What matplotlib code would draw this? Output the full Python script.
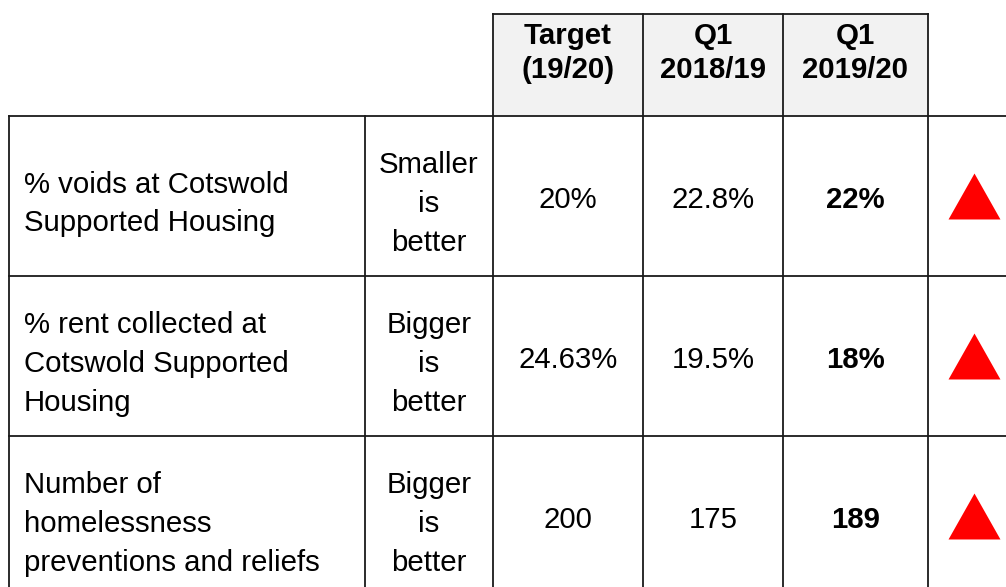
import matplotlib
matplotlib.use("Agg")
import matplotlib.pyplot as plt
from matplotlib.path import Path

# ---- data ----
headers = ["Target\n(19/20)", "Q1\n2018/19", "Q1\n2019/20"]
measures = ["% voids at Cotswold\nSupported Housing",
            "% rent collected at\nCotswold Supported\nHousing",
            "Number of\nhomelessness\npreventions and reliefs"]
polarity = ["Smaller\nis\nbetter", "Bigger\nis\nbetter", "Bigger\nis\nbetter"]
target = ["20%", "24.63%", "200"]
q1_1819 = ["22.8%", "19.5%", "175"]
q1_1920 = ["22%", "18%", "189"]
trend = ["up", "up", "up"]

# ---- layout (pixel coordinates) ----
W, H = 1006, 587
fig = plt.figure(figsize=(W / 100, H / 100), dpi=100)
ax = fig.add_axes([0, 0, 1, 1])
ax.set_xlim(0, W)
ax.set_ylim(H, 0)
ax.axis("off")

plt.rcParams["font.family"] = ["Liberation Sans", "DejaVu Sans"]
FS = 21.2
lc = "#1a1a1a"
lw = 1.3

x_left, x_pol, x_t, x_a, x_b, x_tr, x_right = 9, 365, 493, 643, 783, 928, 1010
y_top, y_head = 14, 116
row_h = 160
rows_y = [y_head + i * row_h for i in range(len(measures) + 1)]

# header fill
ax.add_patch(plt.Rectangle((x_t, y_top), x_tr - x_t, y_head - y_top,
                           facecolor="#f2f2f2", edgecolor="none", zorder=0))

# grid lines
ax.plot([x_t, x_tr], [y_top, y_top], color=lc, lw=lw)
for y in rows_y[:-1]:
    ax.plot([x_left, x_right], [y, y], color=lc, lw=lw)
for x in [x_t, x_a, x_b, x_tr]:
    ax.plot([x, x], [y_top, H + 10], color=lc, lw=lw)
for x in [x_left, x_pol]:
    ax.plot([x, x], [y_head, H + 10], color=lc, lw=lw)

# headers
col_centers = [(x_t + x_a) / 2, (x_a + x_b) / 2, (x_b + x_tr) / 2]
for cx, h in zip(col_centers, headers):
    ax.text(cx, 53, h, ha="center", va="center", fontsize=FS, fontweight="bold",
            linespacing=1.3)

# triangle marker
tri = Path([(0, 0.885), (-1, -0.885), (1, -0.885), (0, 0.885)],
           [Path.MOVETO, Path.LINETO, Path.LINETO, Path.CLOSEPOLY])

for i in range(len(measures)):
    yc = rows_y[i] + row_h / 2
    ax.text(24, yc + 8, measures[i], ha="left", va="center", fontsize=FS,
            linespacing=1.48)
    ax.text((x_pol + x_t) / 2, yc + 8, polarity[i], ha="center", va="center",
            fontsize=FS, linespacing=1.48)
    ax.text(col_centers[0], yc + 4, target[i], ha="center", va="center", fontsize=FS)
    ax.text(col_centers[1], yc + 4, q1_1819[i], ha="center", va="center", fontsize=FS)
    ax.text(col_centers[2], yc + 4, q1_1920[i], ha="center", va="center",
            fontsize=FS, fontweight="bold")
    if trend[i] == "up":
        ax.plot([974], [yc], marker=tri, markersize=37.4, color="#ff0000",
                markeredgewidth=0, linestyle="none")

fig.savefig("out.png", dpi=100)
